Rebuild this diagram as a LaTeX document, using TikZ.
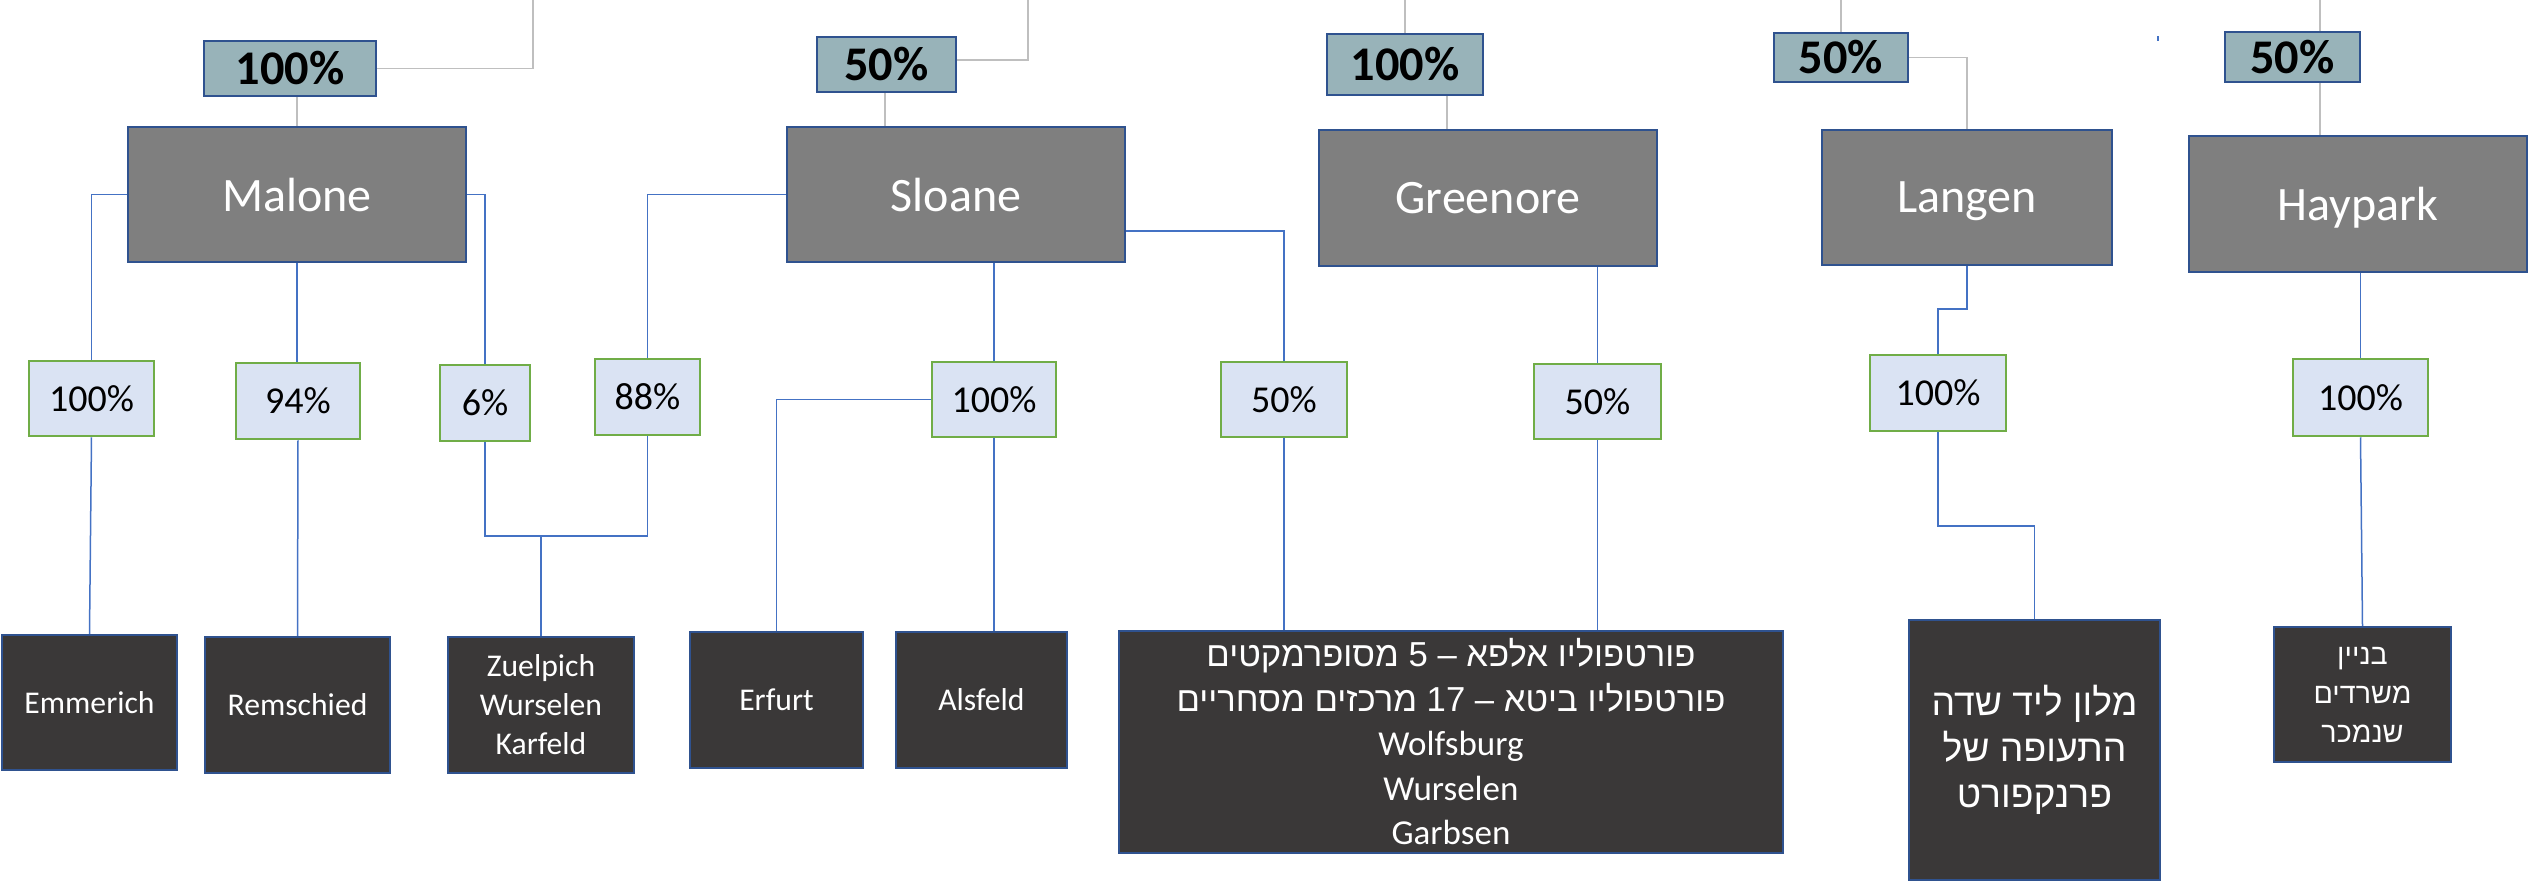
\documentclass[tikz,border=0pt]{standalone}
\usepackage{fontspec}
\setmainfont{Carlito}
\newfontfamily\hebfont[Script=Hebrew]{Liberation Sans}
\TeXXeTstate=1
\definecolor{topfill}{RGB}{152,179,185}
\definecolor{bordblue}{RGB}{47,82,143}
\definecolor{compfill}{RGB}{127,127,127}
\definecolor{pctfill}{RGB}{218,227,243}
\definecolor{pctgreen}{RGB}{112,173,71}
\definecolor{darkfill}{RGB}{58,56,56}
\definecolor{linkblue}{RGB}{68,114,196}
\definecolor{linkgray}{RGB}{191,191,191}
\begin{document}
\begin{tikzpicture}[x=0.3pt,y=-0.3pt,
  bx/.style 2 args={minimum width=#1*0.3pt, minimum height=#2*0.3pt, inner sep=0pt},
  toppct/.style={draw=bordblue, line width=0.75pt, fill=topfill, font=\fontsize{14.5}{16}\selectfont\bfseries},
  company/.style={draw=bordblue, line width=0.75pt, fill=compfill, text=white, text depth=0pt, font=\fontsize{14.4}{16}\selectfont},
  pct/.style={draw=pctgreen, line width=0.75pt, fill=pctfill, font=\fontsize{11.4}{13}\selectfont},
  leaf/.style={draw=bordblue, line width=0.75pt, fill=darkfill, text=white, align=center, font=\fontsize{9.5}{11.7}\selectfont},
  blink/.style={draw=linkblue, line width=0.45pt},
  glink/.style={draw=linkgray, line width=0.45pt}]
\useasboundingbox (0,0) rectangle (2535,887);

% top percentage boxes
\node[toppct, bx={172}{55}] (tA) at (290,68.5) {100\%};
\node[toppct, bx={139}{55}] (tB) at (886.5,64.5) {50\%};
\node[toppct, bx={156}{61}] (tC) at (1405,64.5) {100\%};
\node[toppct, bx={134}{49}] (tD) at (1841,57.5) {50\%};
\node[toppct, bx={135}{50}] (tE) at (2292.5,57) {50\%};

% companies
\node[company, bx={338}{135}] (malone) at (297,194.5) {Malone};
\node[company, bx={338}{135}] (sloane) at (956,194.5) {Sloane};
\node[company, bx={338}{136}] (greenore) at (1488,198) {Greenore};
\node[company, bx={290}{135}] (langen) at (1967,197.5) {Langen};
\node[company, bx={338}{136}] (haypark) at (2358,204) {Haypark};

% holding percentages
\node[pct, bx={125}{75}] (g1) at (91.5,398.5) {100\%};
\node[pct, bx={124}{76}] (g2) at (298,401) {94\%};
\node[pct, bx={90}{76}] (g3) at (485,403) {6\%};
\node[pct, bx={105}{76}] (g4) at (647.5,397) {88\%};
\node[pct, bx={124}{75}] (g5) at (994,399.5) {100\%};
\node[pct, bx={126}{75}] (g6) at (1284,399.5) {50\%};
\node[pct, bx={127}{75}] (g7) at (1597.5,401.5) {50\%};
\node[pct, bx={136}{76}] (g8) at (1938,393) {100\%};
\node[pct, bx={135}{77}] (g9) at (2360.5,397.5) {100\%};

% assets
\node[leaf, bx={175}{135}] (emm) at (89.5,702.5) {Emmerich};
\node[leaf, bx={185}{136}] (rem) at (297.5,705) {Remschied};
\node[leaf, bx={186}{136}] (zuel) at (541,705) {Zuelpich\\Wurselen\\Karfeld};
\node[leaf, bx={173}{136}] (erf) at (776.5,700) {Erfurt};
\node[leaf, bx={171}{136}] (als) at (981.5,700) {Alsfeld};
\node[leaf, bx={664}{222}, font=\fontsize{10.5}{13.35}\selectfont] (big) at (1451,742)
  {{\hebfont\fontsize{10.4}{13.35}\selectfont\beginR פורטפוליו אלפא – \beginL 5\endL{} מסופרמקטים\endR}\\
   {\hebfont\fontsize{10.4}{13.35}\selectfont\beginR פורטפוליו ביטא – \beginL 17\endL{} מרכזים מסחריים\endR}\\
   Wolfsburg\\Wurselen\\Garbsen};
\node[leaf, bx={251}{260}, font=\hebfont\fontsize{11.2}{13.8}\selectfont] (hotel) at (2034.5,750)
  {\beginR מלון ליד שדה\endR\\\beginR התעופה של\endR\\\beginR פרנקפורט\endR};
\node[leaf, bx={177}{135}, font=\hebfont\fontsize{8.6}{11.7}\selectfont] (office) at (2362.5,694.5)
  {\beginR בניין\endR\\\beginR משרדים\endR\\\beginR שנמכר\endR};

% upper (gray) connectors
\coordinate (tAup) at (533,0);
\coordinate (tBup) at (1028,0);
\coordinate (tCup) at (1405,0);
\coordinate (tDup) at (1841,0);
\coordinate (tEup) at (2320,0);
\draw[glink] (tA.east) -| (tAup);
\draw[glink] (tA.south -| malone.north) -- (malone.north);
\draw[glink] (tB.east |- 0,60) -| (tBup);
\draw[glink] (885,0 |- tB.south) -- (885,0 |- sloane.north);
\draw[glink] (tC.north) -- (tCup);
\draw[glink] (1447,0 |- tC.south) -- (1447,0 |- greenore.north);
\draw[glink] (tD.north) -- (tDup);
\draw[glink] (tD.east) -| (langen.north);
\draw[glink] (tEup |- tE.north) -- (tEup);
\draw[glink] (tEup |- tE.south) -- (tEup |- haypark.north);
\draw[linkblue, line width=0.6pt] (2158,36) -- (2158,41);

% lower (blue) connectors
\draw[blink] (malone.west) -| (g1.north);
\draw[blink] (malone.south) -- (malone.south |- g2.north);
\draw[blink] (malone.east) -| (g3.north);
\draw[blink] (sloane.west) -| (g4.north);
\draw[blink] (g1.south) -- (emm.north);
\draw[blink] (g2.south) -- (rem.north);
\coordinate (join) at (541,536);
\draw[blink] (g3.south) -- (g3.south |- join) -- (g4.south |- join) -- (g4.south);
\draw[blink] (join) -- (zuel.north);
\draw[blink] (g5.north |- sloane.south) -- (g5.north);
\draw[blink] (sloane.east |- 0,231) -| (g6.north);
\draw[blink] (g5.west) -| (erf.north);
\draw[blink] (g5.south) -- (g5.south |- als.north);
\draw[blink] (g6.south) -- (g6.south |- big.north);
\draw[blink] (greenore.south -| g7.north) -- (g7.north);
\draw[blink] (g7.south) -- (g7.south |- big.north);
\draw[blink] (langen.south) -- (langen.south |- 0,309) -| (g8.north);
\draw[blink] (g8.south) -- (g8.south |- 0,526) -| (hotel.north);
\draw[blink] (haypark.south -| g9.north) -- (g9.north);
\draw[blink] (g9.south) -- (office.north);
\end{tikzpicture}
\end{document}
